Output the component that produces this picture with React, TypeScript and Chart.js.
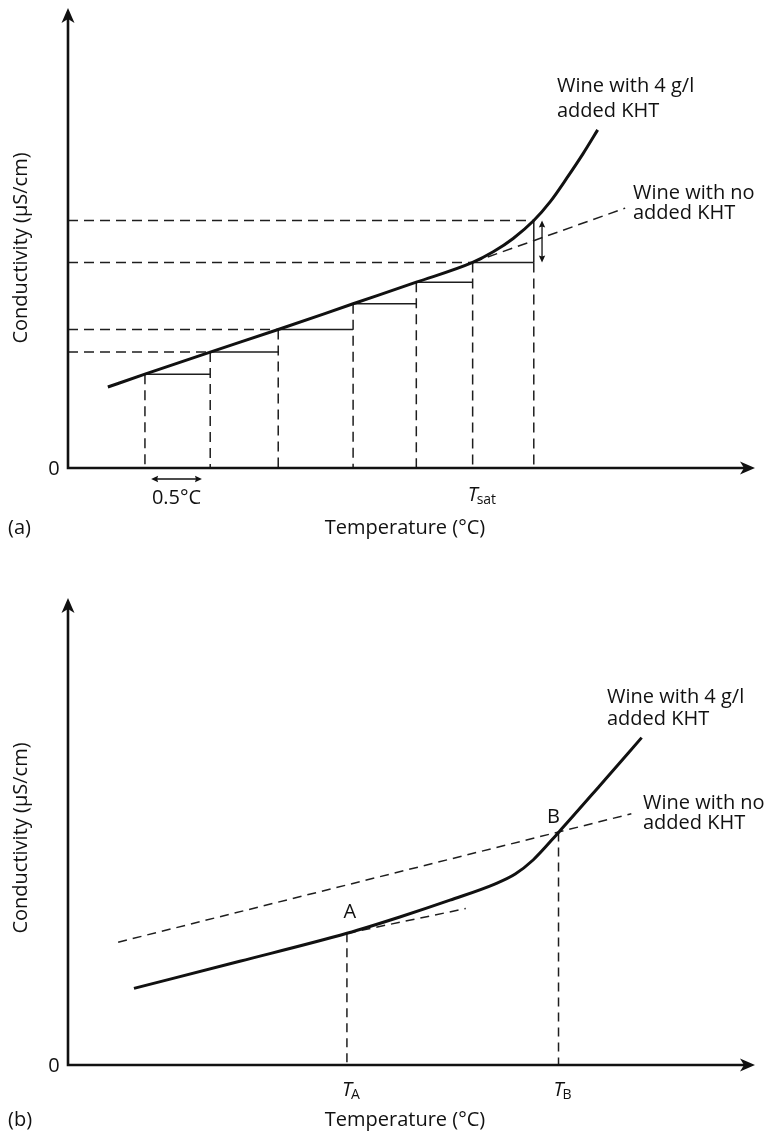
import React, { useEffect, useRef } from "react";
import { Chart, registerables } from "chart.js";

Chart.register(...registerables);

const FONT = '"Open Sans", "Noto Sans", "DejaVu Sans", sans-serif';
const INK = "#111111";
const DASH_INK = "#1e1e1e";
const FS = 20;

// ---------- Panel (a) data (arbitrary units, 0..100) ----------
const tempA = [5.8, 11.2, 20.7, 30.6, 41.5, 50.7, 58.9, 61.9, 64.8, 67.8, 70.2, 72.6, 75.0, 77.1];
const condA = [17.6, 20.4, 25.2, 30.1, 35.7, 40.4, 44.7, 47.0, 49.9, 53.8, 57.9, 63.0, 68.4, 73.5];
const stepTempA = [11.2, 20.7, 30.6, 41.5, 50.7, 58.9, 67.8];
const stepCondA = [20.4, 25.2, 30.1, 35.7, 40.4, 44.7, 53.8];
const guideIdxA = [1, 2, 5, 6];
const noKhtTempA = [58.9, 81.1];
const noKhtCondA = [44.7, 56.5];
const tSatA = 58.9;
const gapTempA = 69.0;
const halfDegreeSpanA = [12.1, 19.5];

// ---------- Panel (b) data ----------
const tempB = [9.6, 25.0, 40.6, 48.3, 55.6, 62.2, 65.1, 67.7, 71.4, 77.4, 83.5];
const condB = [16.4, 22.2, 28.2, 31.7, 35.3, 38.8, 40.9, 43.9, 49.8, 59.8, 70.1];
const noKhtTempB = [7.3, 82.0];
const noKhtCondB = [26.3, 53.8];
const tangentTempB = [40.6, 57.9];
const tangentCondB = [28.2, 33.5];
const pointTempB = [40.6, 71.4];
const pointCondB = [28.2, 49.8];
const pointNamesB = ["A", "B"];

const curveLabel = ["Wine with 4 g/l", "added KHT"];
const lineLabel = ["Wine with no", "added KHT"];
const yTitle = "Conductivity (\u00b5S/cm)";
const xTitle = "Temperature (\u00b0C)";

type Seg = [number, number, number, number];
type P = { x: number; y: number | null };

function segData(segs: Seg[]): P[] {
  const out: P[] = [];
  segs.forEach(([x1, y1, x2, y2], i) => {
    if (i > 0) out.push({ x: x1, y: null });
    out.push({ x: x1, y: y1 });
    out.push({ x: x2, y: y2 });
  });
  return out;
}
const xy = (xs: number[], ys: number[]): P[] => xs.map((x, i) => ({ x, y: ys[i] }));

const base = { pointRadius: 0, pointHoverRadius: 0, fill: false, clip: false as const, tension: 0, spanGaps: false };
const curveDs = (data: P[]) => ({ ...base, data, borderColor: INK, borderWidth: 3, cubicInterpolationMode: "monotone" as const });
const dashDs = (data: P[], dash = [10, 6]) => ({ ...base, data, borderColor: DASH_INK, borderWidth: 1.5, borderDash: dash });
const thinDs = (data: P[]) => ({ ...base, data, borderColor: DASH_INK, borderWidth: 1.5 });

function text(ctx: CanvasRenderingContext2D, s: string, x: number, y: number, align: CanvasTextAlign = "left", size = FS, italic = false) {
  ctx.save();
  ctx.font = `${italic ? "italic " : ""}${size}px ${FONT}`;
  ctx.fillStyle = INK;
  ctx.textAlign = align;
  ctx.textBaseline = "middle";
  ctx.fillText(s, x, y);
  ctx.restore();
}

function subText(ctx: CanvasRenderingContext2D, main: string, sub: string, cx: number, y: number) {
  ctx.save();
  ctx.font = `italic ${FS}px ${FONT}`;
  const w = ctx.measureText(main).width;
  ctx.restore();
  text(ctx, main, cx, y, "center", FS, true);
  text(ctx, sub, cx + w / 2 - 1, y + 5, "left", 14);
}

function head(ctx: CanvasRenderingContext2D, tx: number, ty: number, dx: number, dy: number, len: number, half: number, notch: number) {
  const nx = -dy, ny = dx;
  ctx.beginPath();
  ctx.moveTo(tx, ty);
  ctx.lineTo(tx - dx * len + nx * half, ty - dy * len + ny * half);
  ctx.lineTo(tx - dx * (len - notch), ty - dy * (len - notch));
  ctx.lineTo(tx - dx * len - nx * half, ty - dy * len - ny * half);
  ctx.closePath();
  ctx.fill();
}

function doubleArrow(ctx: CanvasRenderingContext2D, x1: number, y1: number, x2: number, y2: number) {
  const L = Math.hypot(x2 - x1, y2 - y1);
  const dx = (x2 - x1) / L, dy = (y2 - y1) / L;
  ctx.save();
  ctx.strokeStyle = INK;
  ctx.fillStyle = INK;
  ctx.lineWidth = 1.3;
  ctx.beginPath();
  ctx.moveTo(x1 + dx * 3, y1 + dy * 3);
  ctx.lineTo(x2 - dx * 3, y2 - dy * 3);
  ctx.stroke();
  head(ctx, x2, y2, dx, dy, 7, 3.2, 1);
  head(ctx, x1, y1, -dx, -dy, 7, 3.2, 1);
  ctx.restore();
}

function drawAxes(chart: any) {
  const { ctx, chartArea } = chart;
  const { left, right, top, bottom } = chartArea;
  ctx.save();
  ctx.strokeStyle = INK;
  ctx.fillStyle = INK;
  ctx.lineWidth = 2.6;
  ctx.beginPath();
  ctx.moveTo(left, bottom + 1.3);
  ctx.lineTo(left, top + 8);
  ctx.moveTo(left - 1.3, bottom);
  ctx.lineTo(right - 8, bottom);
  ctx.stroke();
  head(ctx, left, top, 0, -1, 15, 6.5, 4);
  head(ctx, right, bottom, 1, 0, 15, 6.5, 4);
  ctx.restore();
}

function drawYTitle(ctx: CanvasRenderingContext2D, x: number, y: number) {
  ctx.save();
  ctx.translate(x, y);
  ctx.rotate(-Math.PI / 2);
  text(ctx, yTitle, 0, 0, "center");
  ctx.restore();
}

function buildA() {
  const guides: Seg[] = guideIdxA.map((i) => [0, stepCondA[i], stepTempA[i], stepCondA[i]]);
  const verticals: Seg[] = stepTempA.map((t, i) =>
    i < stepTempA.length - 1 ? [t, stepCondA[i], t, 0] : [t, stepCondA[i - 1], t, 0]
  );
  const steps: Seg[] = stepTempA.slice(0, -1).map((t, i) => [t, stepCondA[i], stepTempA[i + 1], stepCondA[i]]);
  const last = stepTempA.length - 1;
  steps.push([stepTempA[last], stepCondA[last - 1], stepTempA[last], stepCondA[last]]);

  return {
    datasets: [
      curveDs(xy(tempA, condA)),
      dashDs(xy(noKhtTempA, noKhtCondA)),
      thinDs(segData(steps)),
      dashDs(segData(verticals)),
      dashDs(segData(guides)),
    ],
    padding: { left: 68, right: 9, top: 8, bottom: 92 },
    draw: (chart: any) => {
      const { ctx, chartArea, scales } = chart;
      const px = (v: number) => scales.x.getPixelForValue(v);
      const py = (v: number) => scales.y.getPixelForValue(v);
      drawAxes(chart);
      doubleArrow(ctx, px(gapTempA), py(stepCondA[5]), px(gapTempA), py(stepCondA[6]));
      const ay = chartArea.bottom + 11;
      doubleArrow(ctx, px(halfDegreeSpanA[0]), ay, px(halfDegreeSpanA[1]), ay);
      text(ctx, "0.5\u00b0C", (px(halfDegreeSpanA[0]) + px(halfDegreeSpanA[1])) / 2, chartArea.bottom + 30, "center");
      text(ctx, "0", chartArea.left - 14, chartArea.bottom + 1, "center");
      subText(ctx, "T", "sat", px(tSatA), chartArea.bottom + 27);
      text(ctx, "(a)", 8, 528);
      text(ctx, xTitle, 405, 528, "center");
      drawYTitle(ctx, 21, 248);
      text(ctx, curveLabel[0], 557, 86);
      text(ctx, curveLabel[1], 557, 111);
      text(ctx, lineLabel[0], 633, 193);
      text(ctx, lineLabel[1], 633, 213);
    },
  };
}

function buildB() {
  const verticals: Seg[] = pointTempB.map((t, i) => [t, pointCondB[i], t, 0]);
  return {
    datasets: [
      curveDs(xy(tempB, condB)),
      dashDs(xy(noKhtTempB, noKhtCondB), [9, 6]),
      dashDs(xy(tangentTempB, tangentCondB), [9, 6]),
      dashDs(segData(verticals), [9, 6]),
    ],
    padding: { left: 68, right: 9, top: 38, bottom: 72 },
    draw: (chart: any) => {
      const { ctx, chartArea, scales } = chart;
      const px = (v: number) => scales.x.getPixelForValue(v);
      const py = (v: number) => scales.y.getPixelForValue(v);
      drawAxes(chart);
      text(ctx, "0", chartArea.left - 14, chartArea.bottom + 1, "center");
      subText(ctx, "T", pointNamesB[0], px(pointTempB[0]), chartArea.bottom + 25);
      subText(ctx, "T", pointNamesB[1], px(pointTempB[1]), chartArea.bottom + 25);
      text(ctx, pointNamesB[0], px(pointTempB[0]) + 3, py(pointCondB[0]) - 21, "center");
      text(ctx, pointNamesB[1], px(pointTempB[1]) - 5, py(pointCondB[1]) - 15, "center");
      text(ctx, "(b)", 8, 560);
      text(ctx, xTitle, 405, 560, "center");
      drawYTitle(ctx, 21, 278);
      text(ctx, curveLabel[0], 607, 137);
      text(ctx, curveLabel[1], 607, 159);
      text(ctx, lineLabel[0], 643, 243);
      text(ctx, lineLabel[1], 643, 263);
    },
  };
}

function Panel({ top, height, build }: { top: number; height: number; build: () => any }) {
  const ref = useRef<HTMLCanvasElement>(null);
  useEffect(() => {
    const cfg = build();
    const chart = new Chart(ref.current as HTMLCanvasElement, {
      type: "line",
      data: { datasets: cfg.datasets },
      options: {
        animation: false,
        responsive: false,
        events: [],
        layout: { padding: cfg.padding, autoPadding: false },
        plugins: { legend: { display: false }, tooltip: { enabled: false } },
        scales: {
          x: { type: "linear", min: 0, max: 100, display: false },
          y: { type: "linear", min: 0, max: 100, display: false },
        },
      },
      plugins: [{ id: "decor", afterDraw: (c: any) => cfg.draw(c) }],
    } as any);
    return () => chart.destroy();
  }, []);
  return (
    <canvas
      ref={ref}
      width={764}
      height={height}
      style={{ position: "absolute", left: 0, top, width: 764, height }}
    />
  );
}

export default function App() {
  return (
    <div style={{ position: "absolute", left: 0, top: 0, width: 764, height: 1137, background: "#fff" }}>
      <Panel top={0} height={560} build={buildA} />
      <Panel top={560} height={577} build={buildB} />
    </div>
  );
}
